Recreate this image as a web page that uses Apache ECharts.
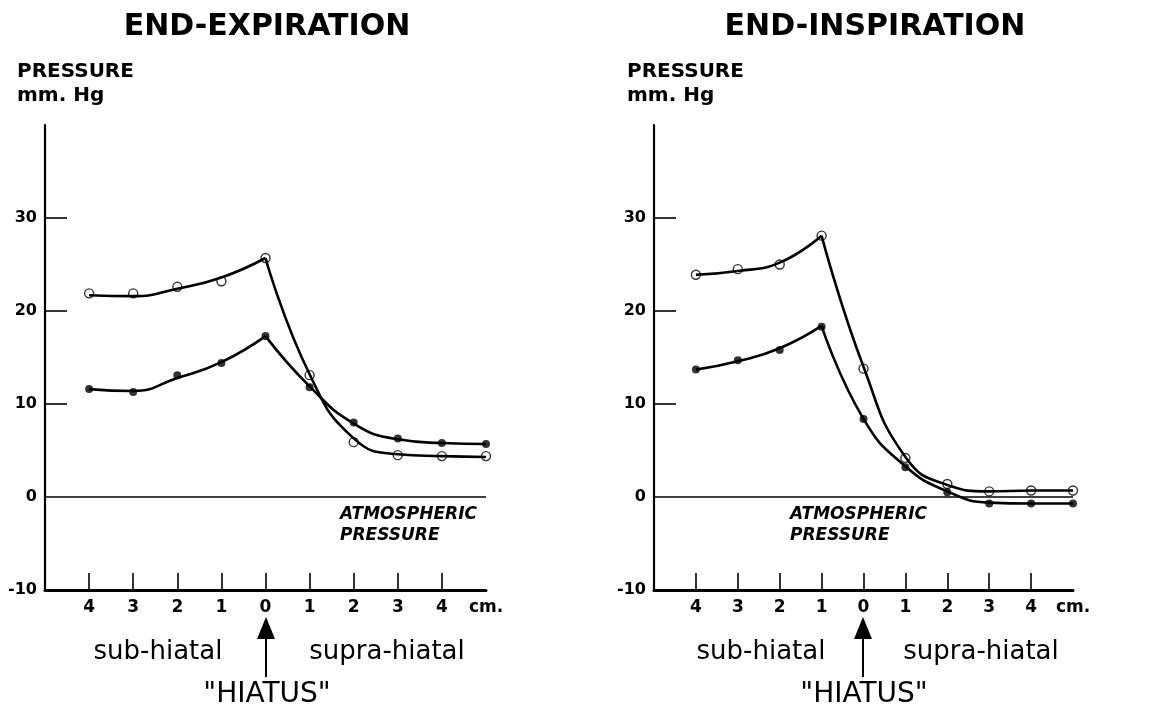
<!DOCTYPE html>
<html>
<head>
<meta charset="utf-8">
<script src="https://cdn.jsdelivr.net/npm/echarts@6/dist/echarts.min.js"></script>
<style>
  html, body { margin: 0; padding: 0; background: #fff; }
  #chart { width: 1166px; height: 709px; }
</style>
</head>
<body>
<div id="chart"></div>
<script>
// distance from hiatus in cm (negative = sub-hiatal)
const positions = [-4, -3, -2, -1, 0, 1, 2, 3, 4, 5];

// end-expiration: measured points
const expOpen = [21.9, 21.9, 22.6, 23.2, 25.7, 13.1, 5.9, 4.5, 4.4, 4.4];
const expFilled = [11.6, 11.3, 13.1, 14.4, 17.3, 11.8, 8.0, 6.3, 5.8, 5.7];
// end-expiration: hand-drawn fitted curves, read at each position
const expOpenFit = [21.7, 21.6, 22.4, 23.6, 25.7, 13.2, 6.3, 4.6, 4.4, 4.3];
const expFilledFit = [11.6, 11.4, 12.8, 14.5, 17.3, 11.9, 7.9, 6.2, 5.8, 5.7];
const expPeak = 0;

// end-inspiration: measured points
const inspOpen = [23.9, 24.5, 25.0, 28.1, 13.8, 4.2, 1.4, 0.6, 0.7, 0.7];
const inspFilled = [13.7, 14.7, 15.8, 18.3, 8.4, 3.2, 0.5, -0.7, -0.7, -0.7];
// end-inspiration: fitted curves
const inspOpenFit = [23.9, 24.3, 25.2, 28.1, 14.0, 4.3, 1.3, 0.6, 0.7, 0.7];
const inspFilledFit = [13.7, 14.6, 16.0, 18.4, 8.4, 3.3, 0.6, -0.6, -0.7, -0.7];
const inspPeak = -1;

// ticks
const xTickValues = [-4, -3, -2, -1, 0, 1, 2, 3, 4];
const xLabelValues = [-4, -3, -2, -1, 0, 1, 2, 3, 4, 5];
const yTickValues = [10, 20, 30];
const yLabelValues = [-10, 0, 10, 20, 30];

const FONT = 'DejaVu Sans';

let chart = echarts.init(document.getElementById('chart'));

function pairs(vals) {
  return positions.map((x, i) => [x, vals[i]]);
}

function xAxisFor(gi) {
  return {
    gridIndex: gi,
    type: 'value',
    min: -5,
    max: 5,
    interval: 1,
    axisLine: { show: true, onZero: false, lineStyle: { color: '#000', width: 3 } },
    axisTick: {
      show: true, inside: true, length: 17, customValues: xTickValues,
      lineStyle: { color: '#000', width: 1.6 },
    },
    axisLabel: {
      customValues: xLabelValues,
      formatter: (v) => (v === 5 ? 'cm.' : String(Math.abs(v))),
      color: '#000', fontSize: 17, fontWeight: 'bold', fontFamily: FONT, margin: 9,
    },
    splitLine: { show: false },
  };
}

function yAxisFor(gi) {
  return {
    gridIndex: gi,
    type: 'value',
    min: -10,
    max: 40,
    interval: 10,
    axisLine: { show: true, onZero: false, lineStyle: { color: '#000', width: 2.2 } },
    axisTick: {
      show: true, inside: true, length: 22, customValues: yTickValues,
      lineStyle: { color: '#000', width: 1.6 },
    },
    axisLabel: {
      customValues: yLabelValues,
      color: '#000', fontSize: 16, fontWeight: 'bold', fontFamily: FONT, margin: 8,
    },
    splitLine: { show: false },
  };
}

function curve(gi, vals, keep, withZero) {
  let s = {
    type: 'line',
    xAxisIndex: gi,
    yAxisIndex: gi,
    data: pairs(vals).filter((p) => keep(p[0])),
    smooth: 0.5,
    showSymbol: false,
    symbol: 'none',
    lineStyle: { color: '#000', width: 2.6 },
    silent: true,
    z: 3,
  };
  if (withZero) {
    s.markLine = {
      silent: true,
      symbol: 'none',
      label: { show: false },
      lineStyle: { color: '#000', width: 1.5, type: 'solid' },
      data: [{ yAxis: 0 }],
    };
  }
  return s;
}

function dots(gi, vals, open) {
  return {
    type: 'scatter',
    xAxisIndex: gi,
    yAxisIndex: gi,
    data: pairs(vals),
    symbol: 'circle',
    symbolSize: open ? 9 : 8,
    itemStyle: open
      ? { color: 'rgba(0,0,0,0)', borderColor: '#000', borderWidth: 1.4 }
      : { color: '#000' },
    silent: true,
    z: 4,
  };
}

function panelSeries(gi, open, filled, openFit, filledFit, peak) {
  return [
    curve(gi, openFit, (x) => x <= peak, true),
    curve(gi, openFit, (x) => x >= peak, false),
    curve(gi, filledFit, (x) => x <= peak, false),
    curve(gi, filledFit, (x) => x >= peak, false),
    dots(gi, open, true),
    dots(gi, filled, false),
  ];
}

function txt(x, y, text, size, extra) {
  return {
    type: 'text',
    x: x,
    y: y,
    style: Object.assign(
      { text: text, fill: '#000', fontSize: size, fontFamily: FONT, align: 'center', verticalAlign: 'middle' },
      extra || {}
    ),
  };
}

function arrow(x) {
  return [
    {
      type: 'polygon',
      shape: { points: [[x, 617], [x - 9, 639], [x + 9, 639]] },
      style: { fill: '#000' },
    },
    {
      type: 'line',
      shape: { x1: x, y1: 636, x2: x, y2: 677 },
      style: { stroke: '#000', lineWidth: 2 },
    },
  ];
}

function panelText(left, atmX, subX, supX, arrowX) {
  return [
    txt(left, 72, 'PRESSURE', 20, { fontWeight: 'bold', align: 'left' }),
    txt(left, 96, 'mm. Hg', 20, { fontWeight: 'bold', align: 'left' }),
    txt(atmX, 525, 'ATMOSPHERIC\nPRESSURE', 17, {
      fontWeight: 'bold', fontStyle: 'italic', align: 'left', lineHeight: 21,
    }),
    txt(subX, 652, 'sub-hiatal', 26),
    txt(supX, 652, 'supra-hiatal', 26),
    txt(arrowX + 1, 695, '"HIATUS"', 28),
  ].concat(arrow(arrowX));
}

var option = {
  backgroundColor: '#fff',
  animation: false,
  title: [
    {
      text: 'END-EXPIRATION', left: 262, top: 22, textAlign: 'center', textVerticalAlign: 'middle',
      textStyle: { fontSize: 30, fontWeight: 'bold', fontFamily: FONT, color: '#000' },
    },
    {
      text: 'END-INSPIRATION', left: 870, top: 22, textAlign: 'center', textVerticalAlign: 'middle',
      textStyle: { fontSize: 30, fontWeight: 'bold', fontFamily: FONT, color: '#000' },
    },
  ],
  grid: [
    { left: 45, top: 125, width: 441, height: 465 },
    { left: 654, top: 125, width: 419, height: 465 },
  ],
  xAxis: [xAxisFor(0), xAxisFor(1)],
  yAxis: [yAxisFor(0), yAxisFor(1)],
  series: panelSeries(0, expOpen, expFilled, expOpenFit, expFilledFit, expPeak).concat(
    panelSeries(1, inspOpen, inspFilled, inspOpenFit, inspFilledFit, inspPeak)
  ),
  graphic: panelText(17, 340, 158, 387, 266).concat(
    panelText(627, 790, 761, 981, 863)
  ),
};

chart.setOption(option);
</script>
</body>
</html>
